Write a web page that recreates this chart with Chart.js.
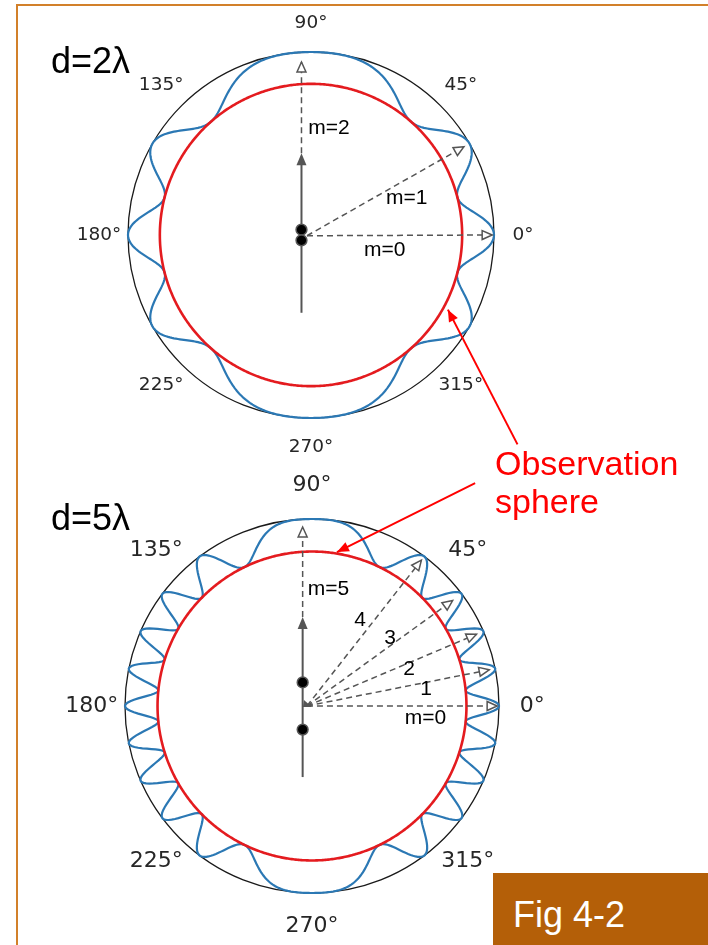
<!DOCTYPE html>
<html>
<head>
<meta charset="utf-8">
<title>Two-source interference: d=2λ and d=5λ</title>
<script src="https://cdn.jsdelivr.net/npm/chart.js@4/dist/chart.umd.min.js"></script>
<style>
  html, body { margin: 0; padding: 0; background: #ffffff; }
  body { width: 708px; height: 945px; position: relative; overflow: hidden;
         font-family: "Liberation Sans", Arial, sans-serif; }
  canvas.panel { position: absolute; left: 0; top: 0; }
  #frameTop { position: absolute; left: 16px; top: 4px; width: 692px; height: 2px; background: #d2802a; }
  #frameLeft { position: absolute; left: 16px; top: 4px; width: 2px; height: 941px; background: #d2802a; }
  #obs { position: absolute; left: 495px; top: 444px; color: #ff0000; font-size: 34px; line-height: 38px; white-space: nowrap; }
  #fig { position: absolute; left: 493px; top: 873px; width: 215px; height: 72px; background: #b45f08; }
  #fig span { position: absolute; left: 20px; top: 22px; color: #ffffff; font-size: 36px; line-height: 40px; white-space: nowrap; }
</style>
</head>
<body>
<div id="frameTop"></div>
<div id="frameLeft"></div>
<canvas class="panel" id="panelA" width="708" height="945"></canvas>
<canvas class="panel" id="panelB" width="708" height="945"></canvas>
<div id="obs">Observation<br>sphere</div>
<div id="fig"><span>Fig 4-2</span></div>
<script>
// ---- data ----
// Source spacing of each panel, in wavelengths
const spacings = [2, 5];
const panelTitles = ['d=2λ', 'd=5λ'];
// Angle labels around each circle (degrees, counter-clockwise from the right)
const angleTicks = [0, 45, 90, 135, 180, 225, 270, 315];
// Bright-fringe orders marked with an arrow, and their labels
const fringeOrders = [[0, 1, 2], [0, 1, 2, 3, 4, 5]];
const orderLabels = [['m=0', 'm=1', 'm=2'], ['m=0', '1', '2', '3', '4', 'm=5']];
// Length of each fringe arrow (outer circle = 1)
const arrowReach = [[0.99, 0.965, 0.945], [0.99, 0.967, 0.96, 0.94, 0.975, 0.957]];
// Radius of the observation sphere (outer circle = 1); the pattern dips to it at dark fringes
const sphereRadius = 0.826;
// Sampling of the pattern: 0.5° steps, clockwise from the top as the radar scale runs
const sampleAngles = [];
for (let i = 0; i < 720; i++) sampleAngles.push(90 - i * 0.5);

// ---- layout (pixels / fractions of the outer radius) ----
const W = 708, H = 945;
const layout = [
  { cx: 311, cy: 235, R: 183.5, tickFont: 18.5, tickR: 1.158,
    titleXY: [51, 73],
    axisDx: -0.052, axisBelow: 0.425, axisAbove: 0.447, sourceDy: 0.029,
    fanOrigin: [-0.022, 0.004],
    labelXY: [[0.403, 0.082], [0.523, -0.202], [0.098, -0.583]],
    pointer: { tail: [-45.4, 1.607], tip: [-28.6, 0.852] } },
  { cx: 312, cy: 706, R: 187, tickFont: 22, tickR: 1.178,
    titleXY: [51, 530],
    axisDx: -0.05, axisBelow: 0.38, axisAbove: 0.476, sourceDy: 0.126,
    fanOrigin: [-0.027, 0.0],
    labelXY: [[0.607, 0.067], [0.61, -0.088], [0.519, -0.195], [0.417, -0.361], [0.257, -0.46], [0.088, -0.626]],
    pointer: { tail: [53.8, 1.477], tip: [80.8, 0.834] } }
];

const GREY = '#555555';

function polar(s, deg, r) {
  const dist = s.getDistanceFromCenterForValue(r);
  const a = deg * Math.PI / 180;
  return { x: s.xCenter + Math.cos(a) * dist, y: s.yCenter - Math.sin(a) * dist };
}
function rel(s, dx, dy) {
  const R = s.getDistanceFromCenterForValue(1);
  return { x: s.xCenter + dx * R, y: s.yCenter + dy * R };
}
function arrowHead(ctx, from, to, len, half, fill, stroke) {
  const a = Math.atan2(to.y - from.y, to.x - from.x);
  const bx = to.x - Math.cos(a) * len, by = to.y - Math.sin(a) * len;
  ctx.beginPath();
  ctx.moveTo(to.x, to.y);
  ctx.lineTo(bx + Math.sin(a) * half, by - Math.cos(a) * half);
  ctx.lineTo(bx - Math.sin(a) * half, by + Math.cos(a) * half);
  ctx.closePath();
  ctx.setLineDash([]);
  ctx.fillStyle = fill; ctx.fill();
  if (stroke) { ctx.strokeStyle = stroke; ctx.lineWidth = 1.5; ctx.stroke(); }
}

function makeOverlay(idx) {
  const L = layout[idx];
  const d = spacings[idx];
  return {
    id: 'overlay' + idx,
    afterDraw(chart) {
      const s = chart.scales.r;
      const ctx = chart.ctx;
      ctx.save();

      // angle labels
      ctx.fillStyle = '#262626';
      ctx.font = L.tickFont + 'px "DejaVu Sans"';
      ctx.textAlign = 'center';
      ctx.textBaseline = 'middle';
      angleTicks.forEach(a => {
        const p = polar(s, a, L.tickR);
        ctx.fillText(a + '°', p.x, p.y);
      });

      // panel title
      ctx.fillStyle = '#000000';
      ctx.font = '36px "Liberation Sans"';
      ctx.textAlign = 'left';
      ctx.textBaseline = 'alphabetic';
      ctx.fillText(panelTitles[idx], L.titleXY[0], L.titleXY[1]);

      // source axis geometry
      const axisTop = rel(s, L.axisDx, -L.axisAbove);
      const axisBot = rel(s, L.axisDx, L.axisBelow);
      const fan = rel(s, L.fanOrigin[0], L.fanOrigin[1]);

      // dashed arrows towards each bright fringe
      ctx.strokeStyle = GREY;
      ctx.lineWidth = 1.5;
      fringeOrders[idx].forEach((m, k) => {
        const deg = Math.asin(m / d) * 180 / Math.PI;
        let tip = polar(s, deg, arrowReach[idx][k]);
        let from = fan;
        if (m === d) { tip = { x: axisTop.x, y: tip.y }; from = axisTop; }
        ctx.setLineDash([6, 4]);
        ctx.beginPath();
        ctx.moveTo(from.x, from.y);
        ctx.lineTo(tip.x, tip.y);
        ctx.stroke();
        arrowHead(ctx, from, tip, 10, 4.5, '#ffffff', GREY);
      });
      if (d > 2) {
        // small wedge where the fan of arrows starts
        ctx.setLineDash([]);
        ctx.fillStyle = GREY;
        ctx.beginPath();
        ctx.moveTo(fan.x - 4, fan.y + 1);
        ctx.lineTo(fan.x + 5, fan.y + 1);
        ctx.lineTo(fan.x - 3, fan.y - 6);
        ctx.closePath();
        ctx.fill();
      }

      // solid source axis with filled head
      ctx.setLineDash([]);
      ctx.strokeStyle = GREY;
      ctx.lineWidth = 2;
      ctx.beginPath();
      ctx.moveTo(axisBot.x, axisBot.y);
      ctx.lineTo(axisTop.x, axisTop.y + 6);
      ctx.stroke();
      arrowHead(ctx, axisBot, axisTop, 12, 5, GREY, null);

      // the two sources
      [-L.sourceDy, L.sourceDy].forEach(dy => {
        const p = rel(s, L.axisDx, dy);
        ctx.beginPath();
        ctx.arc(p.x, p.y, 5.4, 0, Math.PI * 2);
        ctx.fillStyle = '#000000';
        ctx.fill();
        ctx.strokeStyle = GREY;
        ctx.lineWidth = 1.5;
        ctx.stroke();
      });

      // fringe order labels
      ctx.fillStyle = '#000000';
      ctx.font = '21px "Liberation Sans"';
      ctx.textAlign = 'center';
      ctx.textBaseline = 'middle';
      orderLabels[idx].forEach((t, k) => {
        const p = rel(s, L.labelXY[k][0], L.labelXY[k][1]);
        ctx.fillText(t, p.x, p.y);
      });

      // red pointer from the "Observation sphere" note
      const tail = polar(s, L.pointer.tail[0], L.pointer.tail[1]);
      const tip = polar(s, L.pointer.tip[0], L.pointer.tip[1]);
      ctx.strokeStyle = '#ff0000';
      ctx.lineWidth = 2;
      ctx.beginPath();
      ctx.moveTo(tail.x, tail.y);
      ctx.lineTo(tip.x, tip.y);
      ctx.stroke();
      arrowHead(ctx, tail, tip, 12, 5, '#ff0000', null);

      ctx.restore();
    }
  };
}

function makePanel(idx) {
  const L = layout[idx];
  const d = spacings[idx];
  // two-source pattern: bright where d·sinθ is a whole number of wavelengths
  const pattern = sampleAngles.map(a => {
    const c = Math.cos(Math.PI * d * Math.sin(a * Math.PI / 180));
    return sphereRadius + (1 - sphereRadius) * c * c;
  });
  const sphere = sampleAngles.map(() => sphereRadius);
  new Chart(document.getElementById(idx === 0 ? 'panelA' : 'panelB'), {
    type: 'radar',
    data: {
      labels: sampleAngles.map(a => ((a % 360) + 360) % 360 + '°'),
      datasets: [
        { label: 'Observation sphere', data: sphere, borderColor: '#e41b1f', borderWidth: 2.6,
          pointRadius: 0, fill: false, order: 0, clip: false },
        { label: 'Intensity', data: pattern, borderColor: '#2b78b4', borderWidth: 2.2,
          pointRadius: 0, fill: false, order: 1, clip: false }
      ]
    },
    options: {
      responsive: false,
      animation: false,
      events: [],
      layout: { padding: { left: L.cx - L.R, right: W - L.cx - L.R, top: L.cy - L.R, bottom: H - L.cy - L.R } },
      elements: { line: { tension: 0 } },
      plugins: { legend: { display: false }, tooltip: { enabled: false } },
      scales: {
        r: {
          min: 0, max: 1,
          afterBuildTicks: sc => { sc.ticks = [{ value: 0 }, { value: 1 }]; },
          ticks: { display: false },
          pointLabels: { display: false },
          angleLines: { display: false },
          grid: { circular: true, color: '#1a1a1a', lineWidth: 1.3 }
        }
      }
    },
    plugins: [makeOverlay(idx)]
  });
}

makePanel(0);
makePanel(1);
</script>
</body>
</html>
